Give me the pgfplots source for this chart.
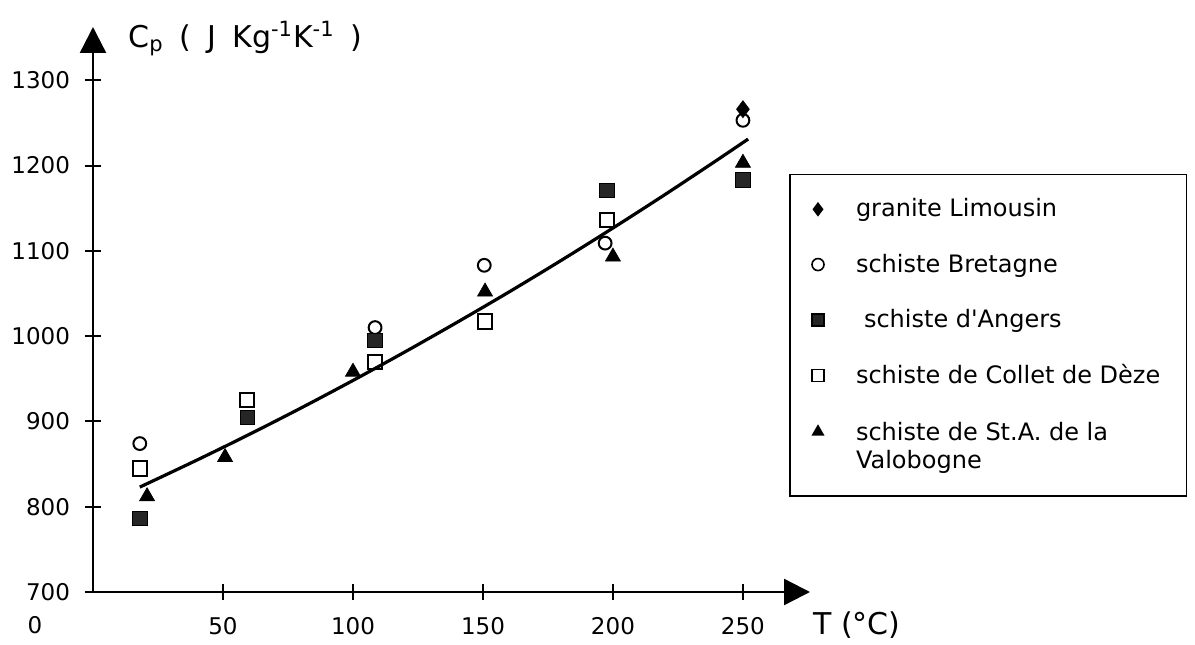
\documentclass[border=0pt]{standalone}
\usepackage{pgfplots}
\pgfplotsset{compat=1.18}
\usepackage{fontspec}
\setmainfont{DejaVu Sans}
\usetikzlibrary{arrows.meta}
\begin{document}
\begin{tikzpicture}
\useasboundingbox (0,0) rectangle (597.5pt,322pt);
\begin{axis}[
  at={(46.5pt,26pt)}, anchor=south west,
  scale only axis, width=358.5pt, height=282.5pt,
  xmin=0, xmax=275.8, ymin=700, ymax=1362.4,
  axis lines=left,
  axis line style={line width=1.2pt, -{Triangle[length=13pt,width=13pt]}},
  xtick={50,100,150,200,250},
  ytick={700,800,900,1000,1100,1200,1300},
  xtick align=center, ytick align=center,
  major tick length=8pt,
  tick style={line width=1pt, black},
  /pgf/number format/assume math mode=true,
  /pgf/number format/1000 sep={},
  ticklabel style={font=\fontsize{11.5}{14}\selectfont},
  xticklabel style={yshift=-5pt},
  yticklabel style={xshift=-4pt},
  extra x ticks={0}, extra x tick labels={0},
  extra x tick style={major tick length=0pt, xticklabel style={xshift=-29pt, yshift=-3.5pt}},
  legend style={at={(0.971,0.740)}, anchor=north west, draw=black, line width=0.8pt,
    font=\fontsize{12}{14}\selectfont, row sep=13pt, column sep=14pt,
    inner xsep=11pt, inner ysep=10pt},
  legend cell align=left,
  legend image code/.code={\draw[mark size=3pt, line width=0.8pt] plot coordinates {(0cm,0cm)};},
  clip=false,
]
\addplot[black, line width=1.6pt, smooth, forget plot] coordinates {
(18,823) (40,854.7) (60,884.6) (80,915.7) (100,948) (120,981.5) (140,1016.1)
(160,1051.7) (180,1088.6) (200,1126.7) (220,1165.9) (240,1206.3) (252,1231)};
% granite Limousin
\addplot[only marks, mark=diamond*, mark size=4.2pt, black, fill=black] coordinates {(250,1266)};
\addlegendentry{granite Limousin}
% schiste Bretagne
\addplot[only marks, mark=o, mark size=3.2pt, black, line width=1pt] coordinates {
(18,874) (108.5,1010) (150.5,1083) (197,1109) (250,1253)};
\addlegendentry{schiste Bretagne}
% schiste d'Angers
\addplot[only marks, mark=square*, mark size=3.6pt, black, fill=black!85] coordinates {
(18,786) (59.3,905) (108.5,995) (197.7,1171) (250,1183)};
\addlegendentry{\hspace{4pt}schiste d\textquotesingle Angers}
% schiste de Collet de Deze
\addplot[only marks, mark=square, mark size=3.6pt, black, line width=1pt] coordinates {
(18,845) (59.3,925) (108.5,970) (150.8,1017) (197.7,1136)};
\addlegendentry{schiste de Collet de Dèze}
% schiste de St.A. de la Valobogne
\addplot[only marks, mark=triangle*, mark size=4.3pt, black, fill=black] coordinates {
(20.8,812) (50.8,858) (100,958) (150.8,1052) (200,1093) (250,1203)};
\addlegendentry{\begin{tabular}[t]{@{}l@{}}schiste de St.A. de la\\Valobogne\end{tabular}}
\addlegendimage{empty legend}
\addlegendentry[inner sep=0pt]{}
\node[anchor=west, inner sep=0pt, font=\fontsize{15}{17}\selectfont] at (axis description cs:0.049,0.979)
  {C\textsubscript{p}\hspace{8pt}(\hspace{8pt}J\hspace{8pt}Kg\textsuperscript{-1}K\textsuperscript{-1}\hspace{8pt})};
\node[anchor=west, inner sep=0pt, font=\fontsize{15}{17}\selectfont] at (axis description cs:1.004,-0.058)
  {T (°C)};
\end{axis}
\end{tikzpicture}
\end{document}
